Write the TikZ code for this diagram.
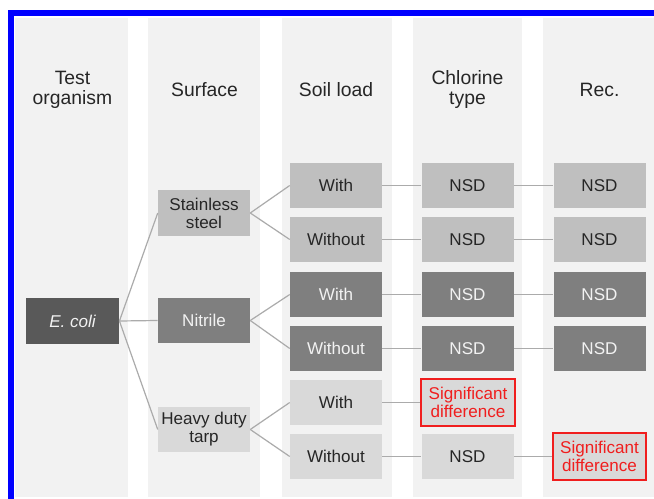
\documentclass[tikz,border=0pt]{standalone}
\usepackage{fontspec}
\setmainfont{Liberation Sans}
\definecolor{colbg}{HTML}{F2F2F2}
\definecolor{ecolifill}{HTML}{595959}
\definecolor{ssfill}{HTML}{BFBFBF}
\definecolor{nitfill}{HTML}{7F7F7F}
\definecolor{tarpfill}{HTML}{D9D9D9}
\definecolor{linegray}{HTML}{ABABAB}
\definecolor{darktext}{HTML}{262626}
\definecolor{sigred}{HTML}{F01E1E}
\definecolor{frameblue}{HTML}{0000FF}
\begin{document}
\begin{tikzpicture}[x=0.75pt,y=-0.75pt,
  hdr/.style={align=center,font=\fontsize{14.5}{15}\selectfont,text=darktext},
  box/.style={minimum width=69pt,minimum height=34pt,inner sep=0pt,align=center,
    font=\fontsize{12.8}{13.6}\selectfont},
  ssbox/.style={box,fill=ssfill,text=darktext},
  nitbox/.style={box,fill=nitfill,text=colbg},
  tarpbox/.style={box,fill=tarpfill,text=darktext},
  sigbox/.style={box,fill=tarpfill,text=sigred,draw=sigred,line width=1.5pt,
    minimum width=70pt,minimum height=35.5pt},
  conn/.style={draw=linegray,line width=0.9pt}]
\useasboundingbox (0,0) rectangle (654,499);
\fill[white] (0,0) rectangle (654,499);
% column backgrounds
\foreach \a/\b in {15/128,148/260,282/392,413/522,543/654}
  \fill[colbg] (\a,18) rectangle (\b,497);
% blue frame
\fill[frameblue] (8,10) rectangle (654,16);
\fill[frameblue] (8,10) rectangle (14,499);
% headers
\node[hdr] (h1) at (72.5,90) {Test\\organism};
\node[hdr] (h2) at (204.5,90) {Surface};
\node[hdr] (h3) at (336,90) {Soil load};
\node[hdr] (h4) at (467.5,90) {Chlorine\\type};
\node[hdr] (h5) at (599.5,90) {Rec.};
% organism
\node[box,fill=ecolifill,text=colbg,minimum width=70pt,font=\fontsize{12.8}{13.6}\selectfont\itshape] (ecoli) at (72.5,321) {E. coli};
% surfaces
\node[ssbox] (ss) at (204,213) {Stainless\\steel};
\node[nitbox] (nit) at (204,320.5) {Nitrile};
\node[tarpbox] (tarp) at (204,429.5) {Heavy duty\\tarp};
% soil load
\node[ssbox] (s1) at (336,185.5) {With};
\node[ssbox] (s2) at (336,239.5) {Without};
\node[nitbox] (s3) at (336,294.5) {With};
\node[nitbox] (s4) at (336,348.5) {Without};
\node[tarpbox] (s5) at (336,402.5) {With};
\node[tarpbox] (s6) at (336,456.5) {Without};
% chlorine
\node[ssbox] (c1) at (467.5,185.5) {NSD};
\node[ssbox] (c2) at (467.5,239.5) {NSD};
\node[nitbox] (c3) at (467.5,294.5) {NSD};
\node[nitbox] (c4) at (467.5,348.5) {NSD};
\node[sigbox] (c5) at (468,402.5) {Significant\\difference};
\node[tarpbox] (c6) at (467.5,456.5) {NSD};
% rec
\node[ssbox] (r1) at (599.5,185.5) {NSD};
\node[ssbox] (r2) at (599.5,239.5) {NSD};
\node[nitbox] (r3) at (599.5,294.5) {NSD};
\node[nitbox] (r4) at (599.5,348.5) {NSD};
\node[sigbox] (r6) at (599.5,456.5) {Significant\\difference};
% connectors
\draw[conn] (ecoli.east) -- (ss.west);
\draw[conn] (ecoli.east) -- (nit.west);
\draw[conn] (ecoli.east) -- (tarp.west);
\draw[conn] (ss.east) -- (s1.west);
\draw[conn] (ss.east) -- (s2.west);
\draw[conn] (nit.east) -- (s3.west);
\draw[conn] (nit.east) -- (s4.west);
\draw[conn] (tarp.east) -- (s5.west);
\draw[conn] (tarp.east) -- (s6.west);
\draw[conn] (s1) -- (c1);
\draw[conn] (s2) -- (c2);
\draw[conn] (s3) -- (c3);
\draw[conn] (s4) -- (c4);
\draw[conn] (s5) -- (c5);
\draw[conn] (s6) -- (c6);
\draw[conn] (c1) -- (r1);
\draw[conn] (c2) -- (r2);
\draw[conn] (c3) -- (r3);
\draw[conn] (c4) -- (r4);
\draw[conn] (c6) -- (r6);
\end{tikzpicture}
\end{document}
